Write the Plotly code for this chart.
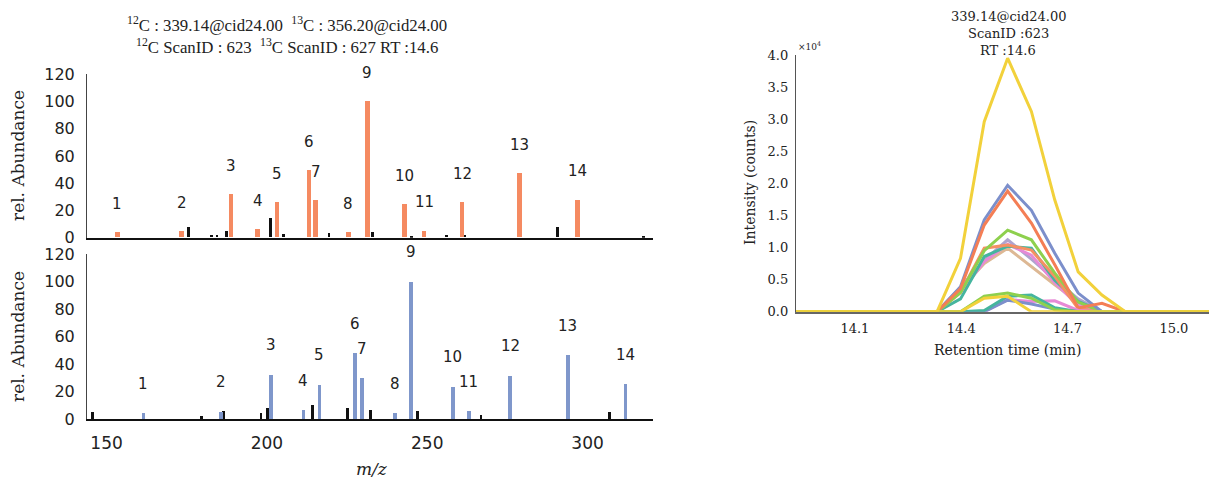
import plotly.graph_objects as go

W, H = 1209, 480

# ---------------- data: 12C spectrum (top) ----------------
frag_labels = ["1", "2", "3", "4", "5", "6", "7", "8", "9", "10", "11", "12", "13", "14"]
mz_12c_frag = [153.4, 173.4, 188.8, 197.1, 203.2, 213.1, 215.2, 225.4, 231.3, 242.9, 249.0, 260.9, 278.7, 296.8]
ab_12c_frag = [3.7, 4.4, 31.6, 5.9, 26.0, 49.4, 27.4, 3.7, 100.0, 24.2, 4.9, 26.0, 47.2, 27.7]
mz_12c_other = [175.6, 182.7, 184.4, 187.5, 201.1, 205.1, 219.4, 233.0, 243.4, 245.2, 256.1, 261.8, 290.7, 317.4]
ab_12c_other = [8.0, 2.0, 1.5, 4.6, 14.2, 2.2, 3.6, 3.7, 1.5, 1.2, 1.7, 1.7, 7.6, 1.0]

# ---------------- data: 13C spectrum (bottom) ----------------
mz_13c_frag = [161.5, 185.7, 201.2, 211.4, 216.4, 227.4, 229.6, 240.0, 244.9, 258.0, 263.0, 275.9, 293.8, 311.8]
ab_13c_frag = [4.1, 5.3, 32.2, 6.5, 25.0, 48.0, 29.8, 4.4, 100.0, 23.5, 5.6, 31.5, 46.3, 25.5]
mz_13c_other = [145.6, 179.6, 186.4, 198.2, 200.1, 214.3, 225.2, 232.2, 247.0, 266.8, 306.8]
ab_13c_other = [4.8, 2.4, 5.6, 4.1, 7.8, 10.2, 7.8, 6.3, 6.1, 2.9, 5.3]

mz_ticks = [150, 200, 250, 300]
ab_ticks = [0, 20, 40, 60, 80, 100, 120]
ab_max = 120

# ---------------- data: extracted ion chromatograms (x10^4 counts) ----------------
rt_min = [13.934, 14.332, 14.398, 14.465, 14.531, 14.598, 14.664, 14.730, 14.797, 14.863, 15.099]
xic_yellow = [0, 0, 0.83, 2.96, 3.95, 3.12, 1.74, 0.62, 0.26, 0, 0]
xic_blue = [0, 0, 0.39, 1.43, 1.97, 1.58, 0.91, 0.29, 0, 0, 0]
xic_orange = [0, 0, 0.36, 1.35, 1.88, 1.38, 0.73, 0.06, 0.13, 0, 0]
xic_green = [0, 0, 0.30, 0.95, 1.27, 1.12, 0.60, 0.15, 0, 0, 0]
xic_purple = [0, 0, 0.38, 0.80, 1.12, 0.82, 0.50, 0.20, 0, 0, 0]
xic_tan = [0, 0, 0.35, 0.75, 0.99, 0.70, 0.42, 0.15, 0, 0, 0]
xic_coral = [0, 0, 0.30, 0.99, 1.04, 0.96, 0.55, 0.05, 0, 0, 0]
xic_teal = [0, 0, 0.20, 0.86, 1.02, 0.99, 0.49, 0.16, 0, 0, 0]
xic_pink = [0, 0, 0.30, 0.78, 1.05, 0.88, 0.45, 0.10, 0, 0, 0]
xic_yellow_small = [0, 0, 0, 0.21, 0.24, 0, 0, 0, 0, 0, 0]
xic_green_small = [0, 0, 0, 0.24, 0.29, 0.21, 0.03, 0, 0, 0, 0]
xic_teal_small = [0, 0, 0, 0.02, 0.24, 0.26, 0.06, 0, 0, 0, 0]
xic_blue_small = [0, 0, 0, 0, 0.18, 0.12, 0.04, 0, 0, 0, 0]
xic_pink_small = [0, 0, 0, 0, 0.19, 0.16, 0.17, 0.02, 0, 0, 0]
rt_ticks = [14.1, 14.4, 14.7, 15.0]
int_ticks = [0.0, 0.5, 1.0, 1.5, 2.0, 2.5, 3.0, 3.5, 4.0]

# ---------------- styling ----------------
ORANGE = "#F58A61"
BLUE = "#7F97CB"
BLACK = "#111111"
SERIF = "DejaVu Serif"
TSERIF = "Liberation Serif"
SANS = "DejaVu Sans"


def px(x):
    return x / W


def py(y):
    return 1 - y / H


fig = go.Figure()

# top spectrum
fig.add_trace(go.Bar(x=mz_12c_other, y=ab_12c_other, width=0.85, marker=dict(color=BLACK, line=dict(width=0)),
                     xaxis="x", yaxis="y", showlegend=False))
fig.add_trace(go.Bar(x=mz_12c_frag, y=ab_12c_frag, width=1.4, marker=dict(color=ORANGE, line=dict(width=0)),
                     xaxis="x", yaxis="y", showlegend=False))
# bottom spectrum
fig.add_trace(go.Bar(x=mz_13c_other, y=ab_13c_other, width=0.85, marker=dict(color=BLACK, line=dict(width=0)),
                     xaxis="x2", yaxis="y2", showlegend=False))
fig.add_trace(go.Bar(x=mz_13c_frag, y=ab_13c_frag, width=1.2, marker=dict(color=BLUE, line=dict(width=0)),
                     xaxis="x2", yaxis="y2", showlegend=False))

# chromatograms
xics = [
    (xic_tan, "#DDB894"), (xic_purple, "#AFA4CE"), (xic_pink, "#E68AD6"), (xic_teal, "#45B59E"),
    (xic_coral, "#F59063"), (xic_green, "#8ED04E"), (xic_blue, "#7C8FCB"), (xic_orange, "#F47E55"),
    (xic_pink_small, "#E68AD6"), (xic_blue_small, "#7C8FCB"), (xic_teal_small, "#45B59E"),
    (xic_green_small, "#8ED04E"), (xic_yellow_small, "#F2D13B"), (xic_yellow, "#F2D13B"),
]
for vals, col in xics:
    fig.add_trace(go.Scatter(x=rt_min, y=vals, mode="lines", line=dict(color=col, width=3),
                             xaxis="x3", yaxis="y3", showlegend=False))

annotations = []
# peak labels (y given as a fraction of the axis domain so labels above the range stay visible)
for mz, ab, lab in zip(mz_12c_frag, ab_12c_frag, frag_labels):
    annotations.append(dict(x=mz, y=(ab + 21) / ab_max, xref="x", yref="y domain", text=lab, showarrow=False,
                            font=dict(family=SANS, size=15, color="#222"), xanchor="center", yanchor="middle"))
for mz, ab, lab in zip(mz_13c_frag, ab_13c_frag, frag_labels):
    annotations.append(dict(x=mz, y=(ab + 21.5) / ab_max, xref="x2", yref="y2 domain", text=lab, showarrow=False,
                            font=dict(family=SANS, size=15, color="#222"), xanchor="center", yanchor="middle"))


def txt(x, y, text, size, family=SERIF, color="#222", angle=0):
    annotations.append(dict(x=px(x), y=py(y), xref="paper", yref="paper", text=text, showarrow=False,
                            font=dict(family=family, size=size, color=color), textangle=angle,
                            xanchor="center", yanchor="middle"))


txt(287, 24, "<sup>12</sup>C : 339.14@cid24.00  <sup>13</sup>C : 356.20@cid24.00", 16.8, family=TSERIF)
txt(287, 47, "<sup>12</sup>C ScanID : 623  <sup>13</sup>C ScanID : 627 RT :14.6", 16.8, family=TSERIF)
txt(18, 156, "rel. Abundance", 17, angle=-90)
txt(18, 337, "rel. Abundance", 17, angle=-90)
txt(372, 469, "<i>m/z</i>", 17)

txt(1008, 17, "339.14@cid24.00", 13)
txt(1008, 34, "ScanID :623", 13)
txt(1008, 51, "RT :14.6", 13)
txt(809, 46, "×10<sup>4</sup>", 9)
txt(750, 183, "Intensity (counts)", 14, angle=-90)
txt(1008, 350, "Retention time (min)", 14)

left_dom = [px(87), px(653)]
mz_range = [143.9, 320.4]

common = dict(showgrid=False, zeroline=False, showline=True, automargin=False, ticks="")

fig.update_layout(
    width=W, height=H, margin=dict(l=0, r=0, t=0, b=0, pad=0, autoexpand=False),
    paper_bgcolor="white", plot_bgcolor="white", barmode="overlay", bargap=0,
    showlegend=False, annotations=annotations,
    xaxis=dict(domain=left_dom, range=mz_range, anchor="y", showticklabels=False,
               linecolor=BLACK, linewidth=2, **common),
    yaxis=dict(domain=[py(237.7), py(74.3)], range=[0, ab_max], anchor="x", tickvals=ab_ticks,
               linecolor="#444", linewidth=1,
               tickfont=dict(family=SANS, size=16, color="#222"), ticklabelstandoff=8, **common),
    xaxis2=dict(domain=left_dom, range=mz_range, anchor="y2", tickvals=mz_ticks,
                linecolor=BLACK, linewidth=2,
                tickfont=dict(family=SANS, size=17, color="#222"), ticklabelstandoff=7, **common),
    yaxis2=dict(domain=[py(419.3), py(254.3)], range=[0, ab_max], anchor="x2", tickvals=ab_ticks,
                linecolor="#444", linewidth=1,
                tickfont=dict(family=SANS, size=16, color="#222"), ticklabelstandoff=8, **common),
    xaxis3=dict(domain=[px(796), 1.0], range=[13.934, 15.099], anchor="y3", tickvals=rt_ticks,
                ticktext=[f"{v:.1f}" for v in rt_ticks],
                linecolor="#666", linewidth=2,
                tickfont=dict(family=SERIF, size=13, color="#222"), ticklabelstandoff=4, **common),
    yaxis3=dict(domain=[py(311.7), py(55)], range=[0, 4.0], anchor="x3", tickvals=int_ticks,
                ticktext=[f"{v:.1f}" for v in int_ticks],
                linecolor="#555", linewidth=1.3,
                tickfont=dict(family=SERIF, size=13, color="#222"), ticklabelstandoff=4, **common),
)

fig.write_html("out.html")
